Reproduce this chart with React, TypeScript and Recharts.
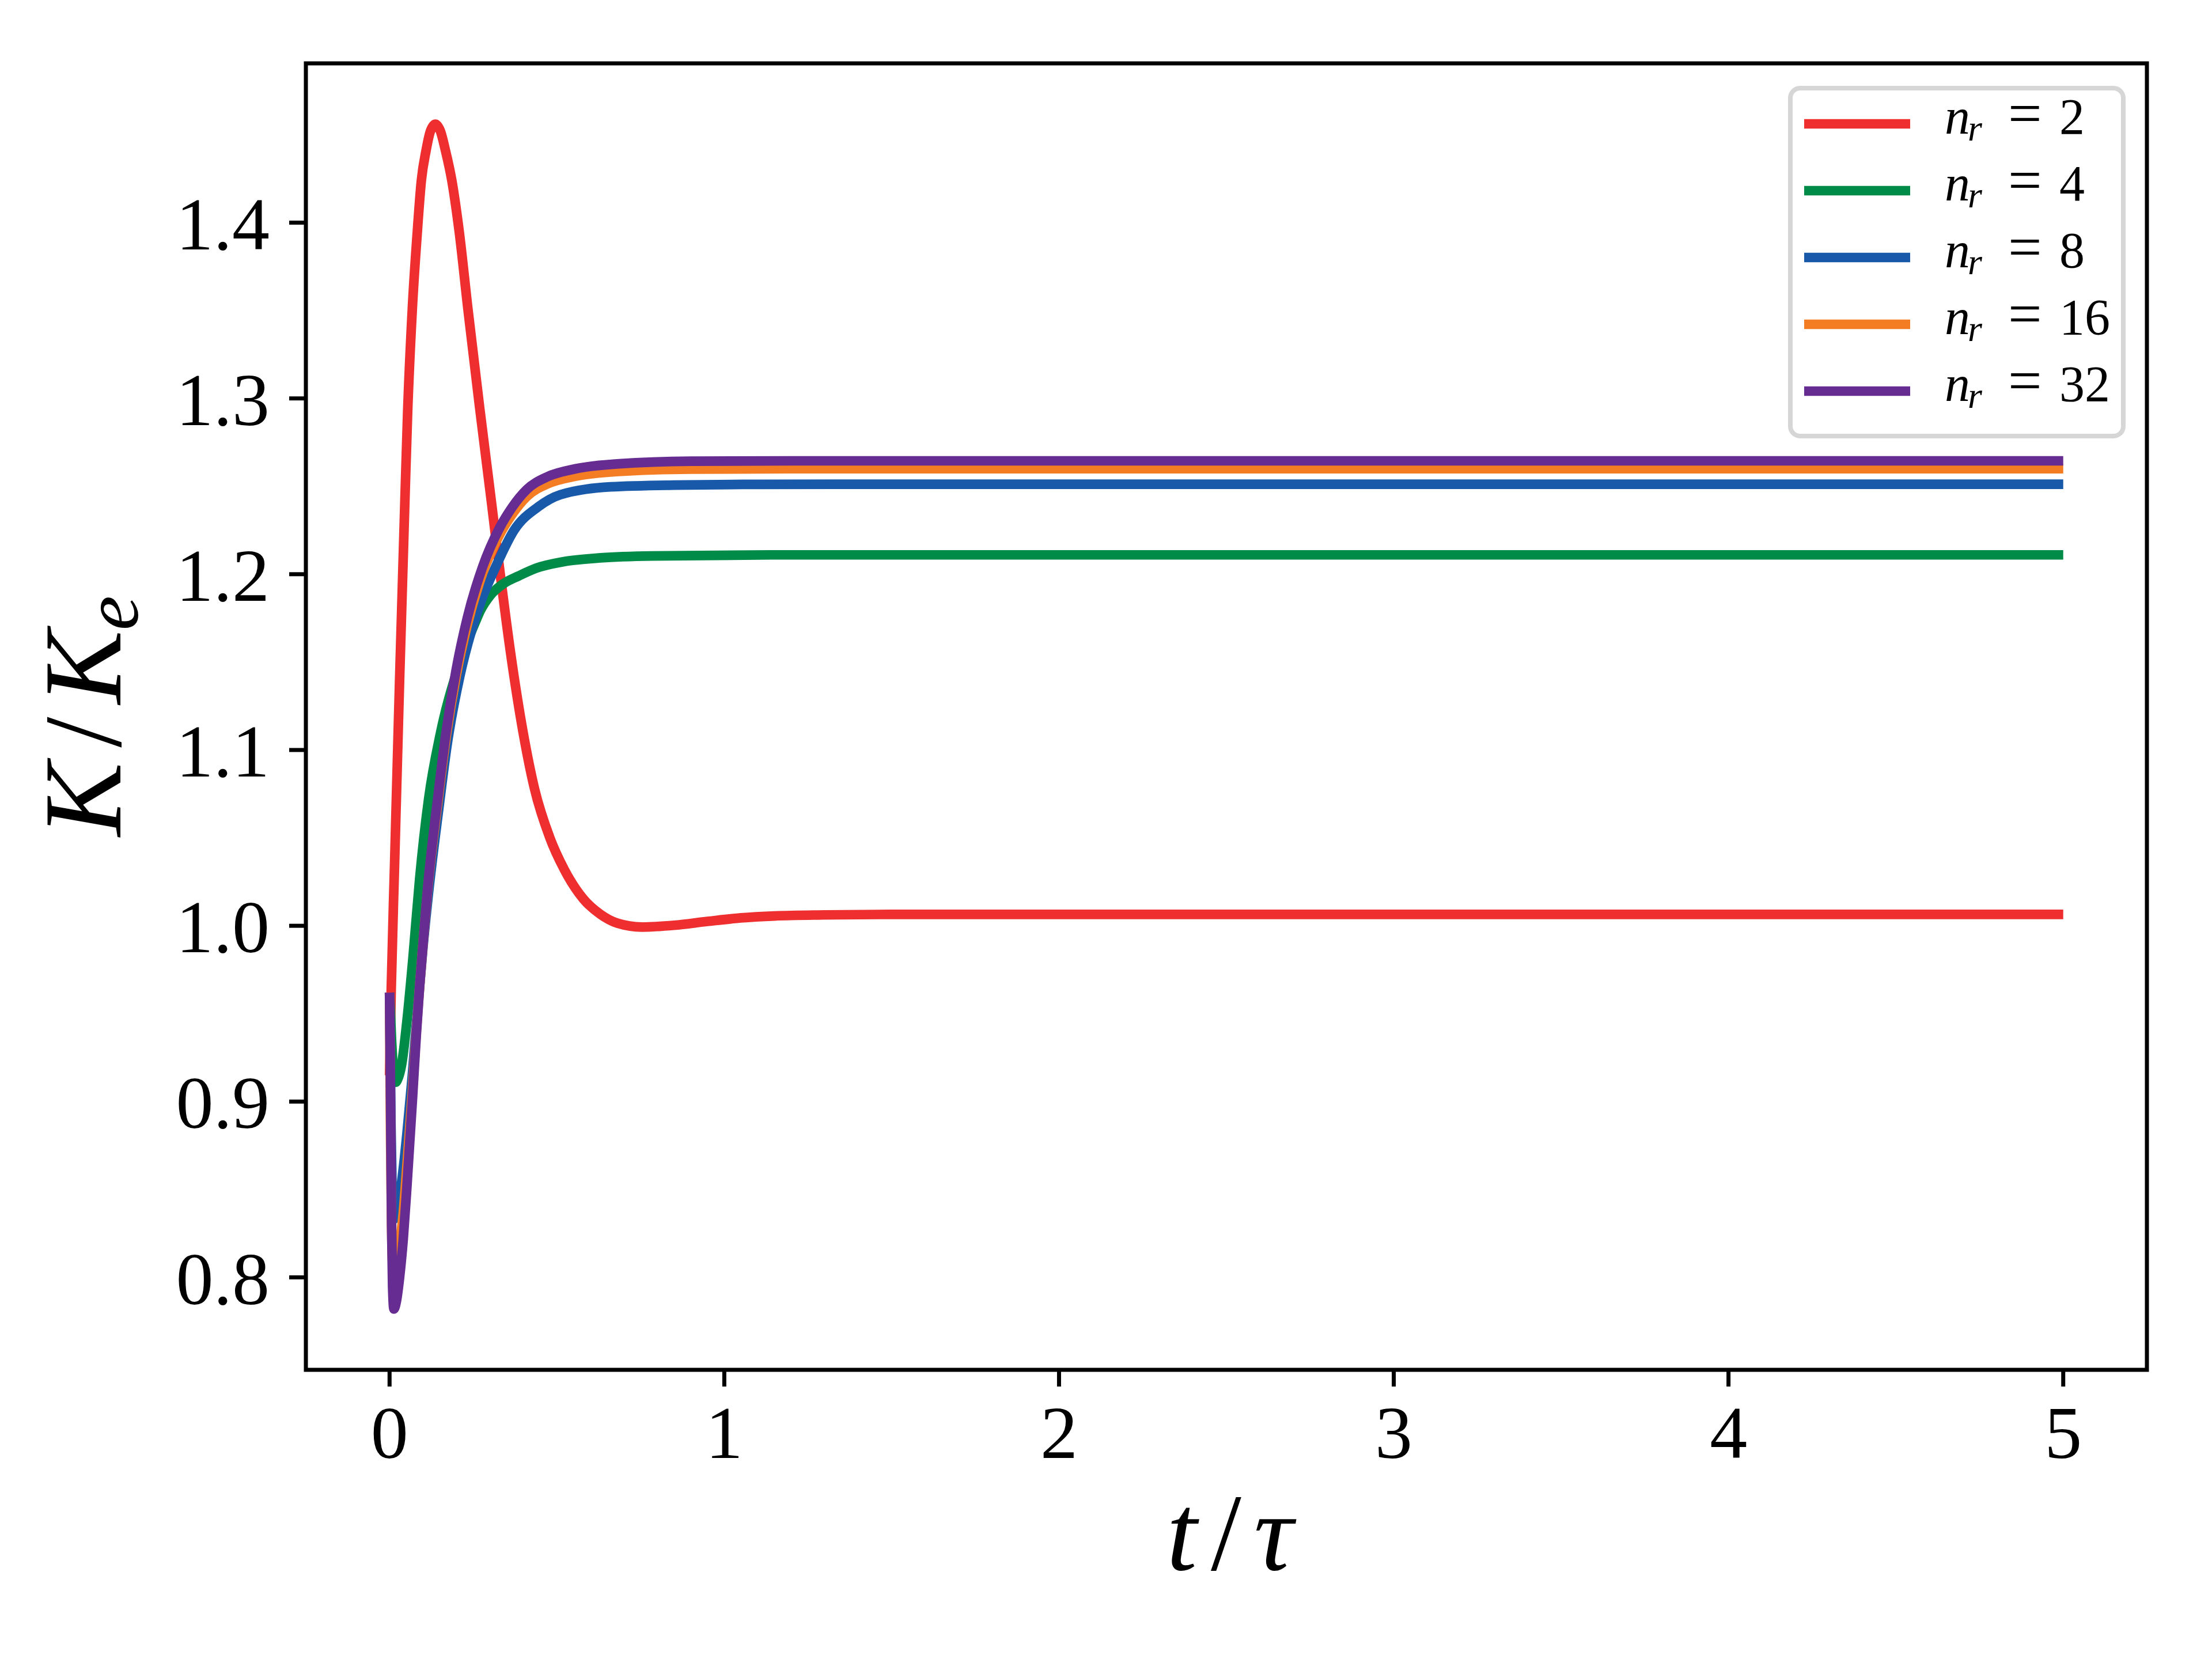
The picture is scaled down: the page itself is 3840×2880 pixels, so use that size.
import React from 'react';
import {
  LineChart,
  Line,
  XAxis,
  YAxis,
  ReferenceArea,
  Legend,
  Label,
} from 'recharts';

const FONT = '"Liberation Serif", "Times New Roman", serif';

// axis ranges and ticks
const X_DOMAIN = [-0.25, 5.25];
const Y_DOMAIN = [0.7474, 1.4906];
const X_TICKS = [0, 1, 2, 3, 4, 5];
const Y_TICKS = [0.8, 0.9, 1.0, 1.1, 1.2, 1.3, 1.4];

// n_r = 2
const RED_T = [0, 0.005, 0.015, 0.03, 0.046, 0.054, 0.068, 0.083, 0.095, 0.109, 0.122, 0.137, 0.152, 0.167, 0.186, 0.208, 0.234, 0.269, 0.305, 0.33, 0.361, 0.399, 0.433, 0.479, 0.522, 0.578, 0.63, 0.68, 0.754, 0.85, 0.95, 1.05, 1.15, 1.3, 1.5, 2, 3, 4, 5];
const RED_V = [0.915, 0.964, 1.035, 1.14, 1.243, 1.292, 1.351, 1.395, 1.424, 1.441, 1.452, 1.456, 1.452, 1.441, 1.424, 1.395, 1.351, 1.295, 1.24, 1.201, 1.156, 1.11, 1.078, 1.05, 1.032, 1.0155, 1.0065, 1.0015, 0.9993, 1.0003, 1.0025, 1.0045, 1.0056, 1.0062, 1.0065, 1.0065, 1.0065, 1.0065, 1.0065];

// n_r = 4
const GREEN_T = [0, 0.006, 0.012, 0.018, 0.025, 0.036, 0.052, 0.07, 0.09, 0.117, 0.1515, 0.205, 0.259, 0.2705, 0.301, 0.3395, 0.3855, 0.439, 0.516, 0.631, 0.785, 1.14, 1.5, 2, 3, 4, 5];
const GREEN_V = [0.962, 0.935, 0.917, 0.911, 0.913, 0.921, 0.946, 0.982, 1.027, 1.0726, 1.109, 1.147, 1.174, 1.179, 1.188, 1.1945, 1.199, 1.2035, 1.207, 1.2093, 1.2104, 1.211, 1.211, 1.211, 1.211, 1.211, 1.211];

// n_r = 8
const BLUE_T = [0, 0.004, 0.008, 0.012, 0.02, 0.03, 0.041, 0.052, 0.068, 0.08, 0.09, 0.1, 0.116, 0.148, 0.172, 0.21, 0.245, 0.28, 0.317, 0.372, 0.444, 0.51, 0.66, 0.85, 1.1, 1.5, 2, 3, 4, 5];
const BLUE_V = [0.962, 0.89, 0.845, 0.833, 0.836, 0.846, 0.862, 0.882, 0.915, 0.944, 0.966, 0.988, 1.018, 1.068, 1.103, 1.142, 1.168, 1.188, 1.2042, 1.225, 1.2383, 1.2452, 1.2497, 1.2507, 1.2511, 1.2512, 1.2512, 1.2512, 1.2512, 1.2512];

// n_r = 16 and n_r = 32 share sample times
const FINE_T = [0, 0.003, 0.006, 0.009, 0.013, 0.02, 0.03, 0.041, 0.052, 0.068, 0.08, 0.09, 0.1, 0.113, 0.144, 0.168, 0.199, 0.232, 0.278, 0.328, 0.367, 0.41, 0.472, 0.554, 0.685, 0.9, 1.2, 1.5, 2, 3, 4, 5];
const ORANGE_V = [0.962, 0.88, 0.83, 0.808, 0.803, 0.806, 0.818, 0.837, 0.864, 0.905, 0.94, 0.966, 0.99, 1.019, 1.07, 1.106, 1.142, 1.171, 1.2005, 1.2222, 1.2343, 1.2442, 1.2514, 1.2557, 1.2585, 1.2598, 1.26, 1.26, 1.26, 1.26, 1.26, 1.26];
const PURPLE_V = [0.962, 0.9, 0.83, 0.795, 0.782, 0.786, 0.8, 0.822, 0.852, 0.9, 0.938, 0.966, 0.99, 1.02, 1.0726, 1.109, 1.1457, 1.175, 1.2042, 1.2261, 1.2383, 1.2482, 1.2555, 1.2599, 1.2628, 1.2643, 1.2645, 1.2645, 1.2645, 1.2645, 1.2645, 1.2645];

const LABELS = ['2', '4', '8', '16', '32'];
const COLORS = ['#EE2E2F', '#008C48', '#185AA9', '#F47D23', '#662C91'];

const toRows = (ts: number[], vs: number[]) => ts.map((t, i) => ({ t, v: vs[i] }));

const SERIES = [
  toRows(RED_T, RED_V),
  toRows(GREEN_T, GREEN_V),
  toRows(BLUE_T, BLUE_V),
  toRows(FINE_T, ORANGE_V),
  toRows(FINE_T, PURPLE_V),
].map((data, i) => ({ data, label: LABELS[i], color: COLORS[i] }));

const LINE_W = 16.7;
const PAD = 40; // room around the legend frame so glyph boxes stay inside

const LegendBox = () => (
  <svg width={586 + 2 * PAD} height={612 + 2 * PAD} style={{ display: 'block' }}>
    <g transform={`translate(${PAD} ${PAD})`}>
      <rect x={4} y={4} width={578} height={604} rx={17} fill="#fff" stroke="#d6d6d6" strokeWidth={8} />
      {SERIES.map((s, i) => {
        const cy = 66 + i * 116;
        return (
          <g key={s.label}>
            <line x1={28} x2={212} y1={cy} y2={cy} stroke={s.color} strokeWidth={LINE_W} />
            <text y={cy + 17} fontFamily={FONT} fontSize={88} fill="#000">
              <tspan x={272} fontStyle="italic">n</tspan>
              <tspan x={312} dy={12} fontStyle="italic" fontSize={64}>r</tspan>
              <tspan x={382} dy={-12} fontSize={104}>=</tspan>
              <tspan x={471}>{s.label}</tspan>
            </text>
          </g>
        );
      })}
    </g>
  </svg>
);

const XLabel = (props: any) => {
  const vb = props.viewBox && props.viewBox.width ? props.viewBox : { x: 531, y: 2378, width: 3196, height: 502 };
  const x = vb.x + vb.width / 2 + 6;
  const y = vb.y + 347;
  return (
    <text x={x} y={y} textAnchor="middle" fontFamily={FONT} fontSize={190} fill="#000">
      <tspan fontStyle="italic">t</tspan>
      <tspan dx={24}>/</tspan>
      <tspan dx={22} fontStyle="italic">τ</tspan>
    </text>
  );
};

const YLabel = (props: any) => {
  const vb = props.viewBox && props.viewBox.height ? props.viewBox : { x: 0, y: 110, width: 531, height: 2268 };
  const x = vb.x + 209;
  const y = vb.y + vb.height / 2 - 1;
  return (
    <text x={x} y={y} transform={`rotate(-90 ${x} ${y})`} textAnchor="middle" fontFamily={FONT} fontSize={192} fill="#000">
      <tspan fontStyle="italic">K</tspan>
      <tspan dx={26}>/</tspan>
      <tspan dx={22} fontStyle="italic">K</tspan>
      <tspan dy={30} fontStyle="italic" fontSize={135}>e</tspan>
    </text>
  );
};

const tickStyle = { fontSize: 130, fill: '#000', fontFamily: FONT };

export default function App() {
  return (
    <div style={{ position: 'absolute', left: 0, top: 0, width: 3840, height: 2880, background: '#fff' }}>
      <LineChart width={3840} height={2880} margin={{ top: 110, right: 113, bottom: 0, left: 0 }}>
        <XAxis
          type="number"
          dataKey="t"
          domain={X_DOMAIN}
          ticks={X_TICKS}
          allowDataOverflow
          interval={0}
          height={502}
          axisLine={false}
          tickLine={{ stroke: '#000', strokeWidth: 7 }}
          tickSize={29}
          tickMargin={32}
          tick={tickStyle}
        >
          <Label content={XLabel} />
        </XAxis>
        <YAxis
          type="number"
          domain={Y_DOMAIN}
          ticks={Y_TICKS}
          allowDataOverflow
          interval={0}
          width={531}
          axisLine={false}
          tickLine={{ stroke: '#000', strokeWidth: 7 }}
          tickSize={29}
          tickMargin={34}
          tick={tickStyle}
          tickFormatter={(v: number) => v.toFixed(1)}
        >
          <Label content={YLabel} />
        </YAxis>
        <ReferenceArea
          x1={X_DOMAIN[0]}
          x2={X_DOMAIN[1]}
          y1={Y_DOMAIN[0]}
          y2={Y_DOMAIN[1]}
          ifOverflow="visible"
          fill="none"
          stroke="#000"
          strokeWidth={7}
        />
        {SERIES.map((s) => (
          <Line
            key={s.label}
            data={s.data}
            dataKey="v"
            type="monotone"
            stroke={s.color}
            strokeWidth={LINE_W}
            strokeLinejoin="round"
            dot={false}
            activeDot={false}
            isAnimationActive={false}
          />
        ))}
        <Legend
          layout="horizontal"
          align="center"
          verticalAlign="middle"
          wrapperStyle={{ left: 3104 - PAD, top: 149 - PAD, width: 586 + 2 * PAD, height: 612 + 2 * PAD }}
          content={() => <LegendBox />}
        />
      </LineChart>
    </div>
  );
}
